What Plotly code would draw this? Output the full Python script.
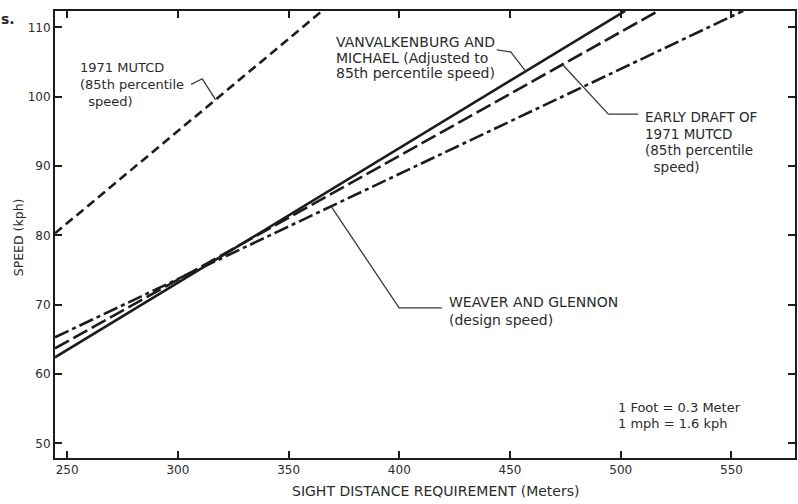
import numpy as np
import plotly.graph_objects as go

# Sight distance (m) and speed (kph) end points of each relationship
mutcd_1971_x = [244.5, 365.2]
mutcd_1971_y = [80.3, 112.4]

vanvalkenburg_x = [244.5, 502.0]
vanvalkenburg_y = [62.4, 112.4]

early_draft_x = [244.5, 517.0]
early_draft_y = [63.7, 112.4]

weaver_x = [244.5, 555.3]
weaver_y = [65.3, 112.4]

x_ticks = [250, 300, 350, 400, 450, 500, 550]
y_ticks = [50, 60, 70, 80, 90, 100, 110]

X_RANGE = [244.5, 578.7]
Y_RANGE = [47.88, 112.38]

INK = "#1c1c1c"
TEXT = "#2b2b2b"
FONT = "DejaVu Sans"


def on_line(xs, ys, x):
    return float(np.interp(x, xs, ys))


fig = go.Figure()

series = [
    (mutcd_1971_x, mutcd_1971_y, "9px,5px", "1971 MUTCD"),
    (vanvalkenburg_x, vanvalkenburg_y, "solid", "Vanvalkenburg and Michael"),
    (early_draft_x, early_draft_y, "16px,5px", "Early draft of 1971 MUTCD"),
    (weaver_x, weaver_y, "15px,4px,4px,4px", "Weaver and Glennon"),
]
for xs, ys, dash, name in series:
    fig.add_trace(go.Scatter(
        x=xs, y=ys, mode="lines", name=name,
        line=dict(color=INK, width=2.6, dash=dash),
        hoverinfo="skip", showlegend=False,
    ))

# Leader lines from each label to its curve
leaders = [
    ([306.0, 311.0, 317.0], [101.8, 102.6, on_line(mutcd_1971_x, mutcd_1971_y, 317.0)]),
    ([444.0, 450.3, 457.1], [106.76, 106.47, on_line(vanvalkenburg_x, vanvalkenburg_y, 457.1)]),
    ([473.7, 494.4, 507.9], [on_line(early_draft_x, early_draft_y, 473.7), 97.5, 97.5]),
    ([369.2, 399.9, 419.2], [on_line(weaver_x, weaver_y, 369.2), 69.53, 69.53]),
]
for lx, ly in leaders:
    fig.add_trace(go.Scatter(
        x=lx, y=ly, mode="lines",
        line=dict(color="#3a3a3a", width=1.3),
        hoverinfo="skip", showlegend=False,
    ))

# Label blocks: left edge (m), line centres (kph), text of each line, font size
label_blocks = [
    (254.8, [104.17, 101.72, 99.26],
     ["1971 MUTCD", "(85th percentile", "\u00a0\u00a0speed)"], 13),
    (370.6, [107.94, 105.64, 103.47],
     ["VANVALKENBURG AND", "MICHAEL (Adjusted to", "85th percentile speed)"], 14),
    (510.2, [97.11, 94.66, 92.35, 89.90],
     ["EARLY DRAFT OF", "1971 MUTCD", "(85th percentile", "\u00a0\u00a0speed)"], 13.5),
    (421.5, [70.39, 67.79],
     ["WEAVER AND GLENNON", "(design speed)"], 14),
    (498.0, [55.10, 52.79],
     ["1 Foot = 0.3 Meter", "1 mph = 1.6 kph"], 13),
]
for lx, ys, lines, size in label_blocks:
    for ly, txt in zip(ys, lines):
        fig.add_annotation(
            x=lx, y=ly, xref="x", yref="y", text=txt, showarrow=False,
            xanchor="left", yanchor="middle", align="left",
            font=dict(family=FONT, size=size, color=TEXT),
        )

# Axis titles
fig.add_annotation(
    x=0.515, y=-0.073, xref="paper", yref="paper",
    text="SIGHT DISTANCE REQUIREMENT (Meters)", showarrow=False,
    xanchor="center", yanchor="middle",
    font=dict(family=FONT, size=14, color=TEXT),
)
fig.add_annotation(
    x=-0.0499, y=0.494, xref="paper", yref="paper",
    text="SPEED (kph)", showarrow=False, textangle=-90,
    xanchor="center", yanchor="middle",
    font=dict(family=FONT, size=12.5, color=TEXT),
)
fig.add_annotation(
    x=-0.064, y=0.983, xref="paper", yref="paper",
    text="<b>s.</b>", showarrow=False,
    xanchor="center", yanchor="middle",
    font=dict(family=FONT, size=14, color=TEXT),
)

axis_common = dict(
    showgrid=False, zeroline=False,
    showline=True, linecolor=INK, linewidth=2,
    mirror="ticks", ticks="inside", ticklen=7, tickwidth=1.6, tickcolor=INK,
    tickfont=dict(family=FONT, size=12, color=TEXT),
)

fig.update_xaxes(
    range=X_RANGE, tickvals=x_ticks, ticktext=[str(v) for v in x_ticks],
    **axis_common,
)
fig.update_yaxes(
    range=Y_RANGE, tickvals=y_ticks, ticktext=[str(v) for v in y_ticks],
    **axis_common,
)

fig.update_layout(
    width=798, height=504,
    margin=dict(l=55, r=1, t=11, b=46),
    paper_bgcolor="white", plot_bgcolor="white",
    showlegend=False,
)

fig.write_html("out.html")
